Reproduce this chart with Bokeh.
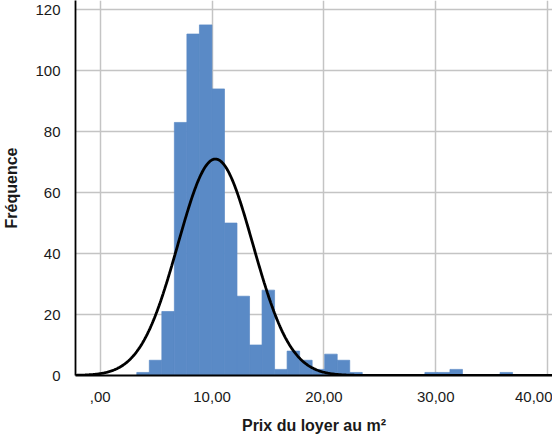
import numpy as np
from bokeh.plotting import figure
from bokeh.models import Range1d, FixedTicker, ColumnDataSource
from bokeh.embed import file_html
from bokeh.resources import INLINE

# ---- data ----
bin_start = 3.27
bin_width = 1.12
counts = [1, 5, 21, 83, 112, 115, 94, 50, 26, 10, 28, 2, 8, 5, 2, 7, 5, 1,
          0, 0, 0, 0, 0, 1, 1, 2, 0, 0, 0, 1]
curve_mean = 10.3
curve_sd = 3.35
curve_peak = 71.0
x_ticks = [0, 10, 20, 30, 40]
x_tick_labels = [",00", "10,00", "20,00", "30,00", "40,00"]
y_ticks = [0, 20, 40, 60, 80, 100, 120]
x_title = "Prix du loyer au m\u00b2"
y_title = "Fr\u00e9quence"

x_lo, x_hi = -2.21, 40.44
y_lo, y_hi = 0, 123

edges = bin_start + bin_width * np.arange(len(counts) + 1)
bars = ColumnDataSource(dict(left=edges[:-1], right=edges[1:], top=counts,
                             bottom=[0] * len(counts)))

xs = np.linspace(x_lo, x_hi, 600)
ys = curve_peak * np.exp(-0.5 * ((xs - curve_mean) / curve_sd) ** 2)

p = figure(width=552, height=438, output_backend="svg", toolbar_location=None,
           x_range=Range1d(x_lo, x_hi), y_range=Range1d(y_lo, y_hi),
           min_border_left=70, min_border_right=0, min_border_top=0,
           min_border_bottom=63)
p.outline_line_color = None
p.background_fill_color = "white"
p.border_fill_color = "white"

p.quad(left="left", right="right", top="top", bottom="bottom", source=bars,
       fill_color="#5a8ac6", line_color="#5a8ac6", line_width=0.7)
p.line(xs, ys, line_color="black", line_width=2.8)

p.xaxis.ticker = FixedTicker(ticks=x_ticks)
p.xaxis.major_label_overrides = {t: l for t, l in zip(x_ticks, x_tick_labels)}
p.yaxis.ticker = FixedTicker(ticks=y_ticks)

for ax in (p.xaxis, p.yaxis):
    ax.major_tick_line_color = None
    ax.minor_tick_line_color = None
    ax.axis_line_color = "black"
    ax.axis_line_width = 1.8
    ax.major_label_text_font = "Liberation Sans"
    ax.major_label_text_font_size = "15px"
    ax.major_label_text_color = "#1a1a1a"
    ax.axis_label_text_font = "Liberation Sans"
    ax.axis_label_text_font_size = "16px"
    ax.axis_label_text_font_style = "bold"
    ax.axis_label_text_color = "#1a1a1a"

p.xaxis.axis_label = x_title
p.yaxis.axis_label = y_title
p.xaxis.major_label_standoff = 10
p.xaxis.axis_label_standoff = 12
p.yaxis.major_label_standoff = 9
p.yaxis.axis_label_standoff = 12

p.xgrid.grid_line_color = "#c4c4c4"
p.ygrid.grid_line_color = "#c4c4c4"
p.xgrid.grid_line_width = 1.5
p.ygrid.grid_line_width = 1.5

open("out.html", "w").write(file_html(p, INLINE))
